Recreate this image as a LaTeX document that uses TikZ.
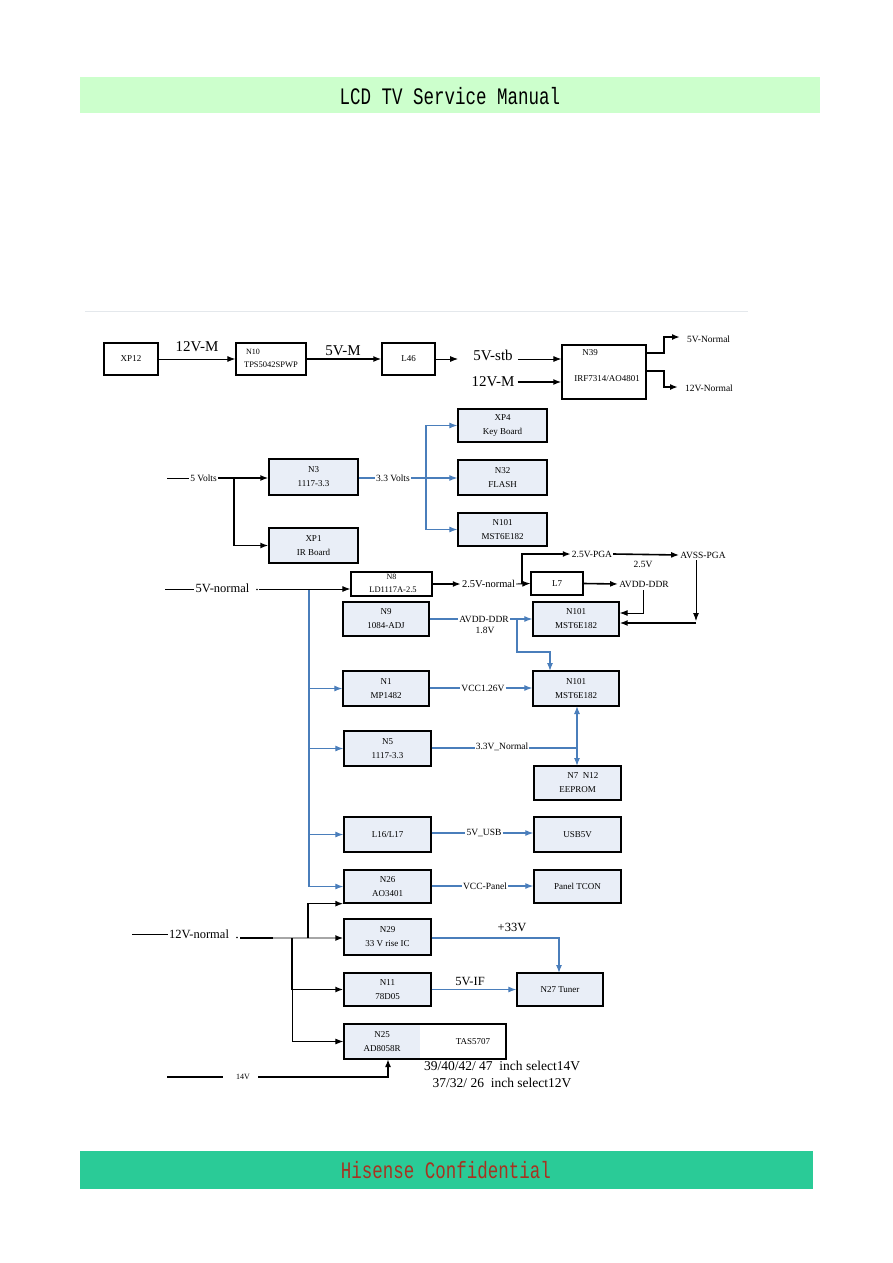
\documentclass[tikz,border=0pt]{standalone}
\usepackage{fontspec}
\usepackage{graphicx}
\setmainfont{Liberation Serif}
\newfontfamily\monof{Liberation Mono}
\usetikzlibrary{arrows.meta}
\definecolor{bf}{HTML}{E9EEF7}
\definecolor{bl}{HTML}{4A7EBB}
\definecolor{hdr}{HTML}{CCFFCC}
\definecolor{ftr}{HTML}{2ACB97}
\definecolor{ftxt}{HTML}{A83220}
\definecolor{sep}{HTML}{E4E8EC}
\newcommand\bxf{\fontsize{9}{14}\selectfont}
\newcommand\lbf{\fontsize{9.5}{11}\selectfont}
\newcommand\bgf{\fontsize{15}{15}\selectfont}
\newcommand\mdf{\fontsize{12.5}{13}\selectfont}
\begin{document}
\begin{tikzpicture}[x=1pt,y=-1pt,
  box/.style={draw, line width=1.3pt, fill=bf, align=center, font=\bxf, inner sep=0pt},
  wbox/.style={box, fill=white},
  lab/.style={font=\lbf, inner sep=1pt},
  biglab/.style={font=\bgf, inner sep=1pt},
  midlab/.style={font=\mdf, inner sep=1pt},
  tip/.style={-{Latex[length=8pt,width=6pt]}},
  blk/.style={draw=black, line width=0.9pt, tip},
  blkt/.style={draw=black, line width=1.6pt, tip},
  blu/.style={draw=bl, line width=1.2pt, tip},
  bln/.style={draw=bl, line width=1.2pt},
  pln/.style={draw=black, line width=0.9pt},
  plnt/.style={draw=black, line width=1.6pt}]
\useasboundingbox (0,0) rectangle (893,1263);
\fill[white] (0,0) rectangle (893,1263);
% header / footer
\fill[hdr] (80,77) rectangle (820,113);
\node[font=\monof\fontsize{17.5}{18}\selectfont] (hdrt) at (450,96) {\scalebox{1}[1.35]{LCD TV Service Manual}};
\fill[ftr] (80,1151) rectangle (813,1189);
\node[font=\monof\fontsize{17.5}{18}\selectfont, text=ftxt] (ftrt) at (446,1170) {\scalebox{1}[1.35]{Hisense Confidential}};
\draw[sep, line width=0.8pt] (85,311) -- (748,311);

% ---------- row 1 ----------
\node[wbox, minimum width=54, minimum height=32] (xp12) at (131,359) {XP12};
\node[wbox, minimum width=70, minimum height=32] (n10) at (271,359) {};
\node[font=\fontsize{8}{9}\selectfont, inner sep=0] (n10a) at (253,352) {N10};
\node[font=\fontsize{8.5}{9}\selectfont, inner sep=0] (n10b) at (271,365) {TPS5042SPWP};
\node[wbox, minimum width=53, minimum height=32] (l46) at (408.5,359) {L46};
\node[wbox, minimum width=84, minimum height=54] (n39) at (604,372) {};
\node[font=\bxf, inner sep=0] (n39a) at (590,353) {N39};
\node[font=\bxf, inner sep=0] (n39b) at (607,379) {IRF7314/AO4801};
\node[biglab] (t12m) at (197,347) {12V-M};
\node[biglab] (t5m) at (343,351) {5V-M};
\node[biglab] (v5stb) at (493,355) {5V-stb};
\node[biglab] (v12m) at (493,382) {12V-M};
\node[lab, anchor=west] (v5n) at (686,339) {5V-Normal};
\node[lab, anchor=west] (v12n) at (684,388) {12V-Normal};
\draw[blk] (xp12.east) -- (n10.west);
\draw[blkt] (n10.east) -- (l46.west);
\draw[blk] (l46.east) -- ([xshift=-14pt]l46.east -| v5stb.west);
\draw[blk] ([xshift=4pt]v5stb.east |- l46.east) -- (n39.west |- l46.east);
\draw[blkt] ([xshift=2pt]v12m.east) -- (v12m.east -| n39.west);
\draw[blkt] ([yshift=19pt]n39.east) -- (664,353) -- (664,337) -- ([xshift=-6pt]v5n.west |- 0,337);
\draw[blkt] ([yshift=1pt]n39.east) -- (664,371) -- (664,387) -- ([xshift=-6pt]v12n.west |- 0,387);

% ---------- 5 Volts / 3.3 Volts ----------
\node[box, minimum width=89, minimum height=36] (n3) at (313.5,477) {N3\\1117-3.3};
\node[box, minimum width=89, minimum height=35] (xp1) at (313.5,545.5) {XP1\\IR Board};
\node[box, minimum width=89, minimum height=33] (xp4) at (502.5,425.5) {XP4\\Key Board};
\node[box, minimum width=89, minimum height=35] (n32) at (502.5,477.5) {N32\\FLASH};
\node[box, minimum width=89, minimum height=33] (n101a) at (502.5,529.5) {N101\\MST6E182};
\coordinate (s5) at (167,478);
\node[lab] (t5v) at (203.5,478) {5 Volts};
\draw[pln] (s5) -- (t5v.west);
\draw[blkt] (t5v.east) -- (n3.west |- t5v.east);
\coordinate (b1) at (234,478);
\draw[blkt] (b1) |- (xp1.west);
\node[lab] (t33) at (393,478) {3.3 Volts};
\draw[bln] (n3.east |- t33.west) -- (t33.west);
\draw[blu] (t33.east) -- (n32.west |- t33.east);
\coordinate (b2) at (426,478);
\draw[blu] (b2) |- (xp4.west);
\draw[blu] (b2) |- (n101a.west);

% ---------- 5V-normal ----------
\node[wbox, minimum width=81, minimum height=24] (n8) at (391.5,584) {};
\node[font=\fontsize{8}{9}\selectfont, inner sep=0] (n8a) at (391.5,577) {N8};
\node[font=\fontsize{8.5}{9}\selectfont, inner sep=0] (n8b) at (393,590) {LD1117A-2.5};
\node[box, minimum width=86, minimum height=34] (n9) at (386,619) {N9\\1084-ADJ};
\node[wbox, minimum width=52, minimum height=23] (l7) at (557,583.5) {L7};
\node[box, minimum width=86, minimum height=34] (n101b) at (576,619) {N101\\MST6E182};
\coordinate (s5n) at (165,589);
\node[midlab] (t5n) at (222.5,588) {5V-normal};
\fill (257,589.5) circle (0.9pt);
\draw[pln] (s5n) -- (t5n.west |- s5n);
\draw[blk] (259,589) -- (n8.west |- 0,589);
\node[lab, font=\fontsize{10.5}{11}\selectfont] (t25n) at (488.5,584) {2.5V-normal};
\draw[blkt] (n8.east) -- (t25n.west);
\draw[blk] (t25n.east) -- (l7.west);
\node[lab] (t25pga) at (592,554) {2.5V-PGA};
\node[lab] (tavss) at (703,555) {AVSS-PGA};
\node[lab] (t25v) at (643,564) {2.5V};
\node[lab] (tavdd) at (644,584) {AVDD-DDR};
\coordinate (b3) at (522,584);
\draw[blkt] (b3) -- (522,554) -- (t25pga.west);
\draw[blkt] (t25pga.east) -- (tavss.west);
\draw[blkt] (l7.east) -- (tavdd.west);
\draw[blk] (643,590) -- (643,613) -- (n101b.east |- 0,613);
\draw[blk] (696,560) -- (696,621);
\draw[blkt] (696,623) -- (n101b.east |- 0,623);
% N9 -> AVDD-DDR 1.8V
\node[lab] (tavdd18) at (484,619) {AVDD-DDR};
\node[lab] (t18) at (485,630) {1.8V};
\draw[bln] (n9.east) -- (tavdd18.west);
\draw[blu] (tavdd18.east) -- (n101b.west);

% ---------- blue 5V bus ----------
\node[box, minimum width=86, minimum height=35] (n1) at (386,688.5) {N1\\MP1482};
\node[box, minimum width=86, minimum height=35] (n101c) at (576,688.5) {N101\\MST6E182};
\node[box, minimum width=87, minimum height=35] (n5) at (387.5,748.5) {N5\\1117-3.3};
\node[box, minimum width=87, minimum height=34] (n7) at (577.5,783) {\hspace{1.2em}N7\ \ N12\\EEPROM};
\node[box, minimum width=87, minimum height=35] (l16) at (387.5,834.5) {L16/L17};
\node[box, minimum width=87, minimum height=35] (usb) at (577.5,834.5) {USB5V};
\node[box, minimum width=87, minimum height=33] (n26) at (387.5,886.5) {N26\\AO3401};
\node[box, minimum width=87, minimum height=33] (tcon) at (577.5,886.5) {Panel TCON};
\draw[blu] (517,619) -- (517,652) -- (550,652) -- (550,671);
\coordinate (bus0) at (309,590);
\coordinate (bus1) at (309,886.5);
\draw[bln] (bus0) -- (bus1);
\draw[blu] (bus0 |- n1.west) -- (n1.west);
\draw[blu] (bus0 |- n5.west) -- (n5.west);
\draw[blu] (bus0 |- l16.west) -- (l16.west);
\draw[blu] (bus1) -- (n26.west);
\node[lab] (tvcc) at (483,688) {VCC1.26V};
\draw[bln] (n1.east |- tvcc.west) -- (tvcc.west);
\draw[blu] (tvcc.east) -- (n101c.west |- tvcc.east);
\node[lab] (t33n) at (502,747) {3.3V\_Normal};
\draw[bln] (n5.east |- 0,748) -- (t33n.west |- 0,748);
\draw[bln] (t33n.east |- 0,748) -- (577,748);
\draw[blu] (577,748) -- (577,706);
\draw[blu] (577,748) -- (577,766);
\node[lab] (tusb) at (484,833) {5V\_USB};
\draw[bln] (l16.east |- tusb.west) -- (tusb.west);
\draw[blu] (tusb.east) -- (usb.west |- tusb.east);
\node[lab] (tvccp) at (485,886) {VCC-Panel};
\draw[bln] (n26.east |- tvccp.west) -- (tvccp.west);
\draw[blu] (tvccp.east) -- (tcon.west |- tvccp.east);

% ---------- 12V-normal ----------
\node[box, minimum width=87, minimum height=36] (n29) at (387.5,937) {N29\\33 V rise IC};
\node[box, minimum width=87, minimum height=33] (n11) at (387.5,989.5) {N11\\78D05};
\fill[bf] (344,1024) rectangle (420,1059);
\node[draw, line width=1.3pt, minimum width=162, minimum height=35, inner sep=0] (n25) at (425,1041.5) {};
\node[font=\bxf, align=center, inner sep=0] (n25a) at (382,1041.5) {N25\\AD8058R};
\node[font=\bxf, inner sep=0] (n25b) at (473,1041.5) {TAS5707};
\node[box, minimum width=86, minimum height=33] (n27) at (560,989.5) {N27 Tuner};
\coordinate (s12) at (132,934);
\node[midlab] (t12n) at (199,934) {12V-normal};
\draw[pln] (s12) -- (t12n.west |- s12);
\fill (237,937.5) circle (0.8pt);
\draw[plnt] (240,938) -- (273,938);
\draw[draw=gray!70, line width=1.6pt, -{Latex[length=8pt,width=6pt,color=black]}] (273,938) -- (n29.west |- 0,938);
\draw[blkt] (308,938) |- (n26.south west);
\draw[blkt] (292,938) |- (n11.west);
\draw[blk] (292,938) |- (n25.west);
\coordinate (s14) at (167,1077);
\node[lab, font=\fontsize{8}{9}\selectfont] (t14) at (243,1077) {14V};
\draw[plnt] (s14) -- (223,1077);
\draw[plnt, tip] (258,1077) -- (388,1077) -- (388,1059);
\node[midlab] (t33v) at (512,927) {+33V};
\draw[blu] (n29.east |- 0,938) -- (559,938) -- (559,973);
\node[midlab] (t5if) at (470,981) {5V-IF};
\draw[blu] (n11.east) -- (n27.west);
\node[midlab, font=\fontsize{13.5}{14}\selectfont] (sel1) at (502,1066) {39/40/42/ 47 \ inch select14V};
\node[midlab, font=\fontsize{13.5}{14}\selectfont] (sel2) at (502,1083) {37/32/ 26 \ inch select12V};
\end{tikzpicture}
\end{document}
